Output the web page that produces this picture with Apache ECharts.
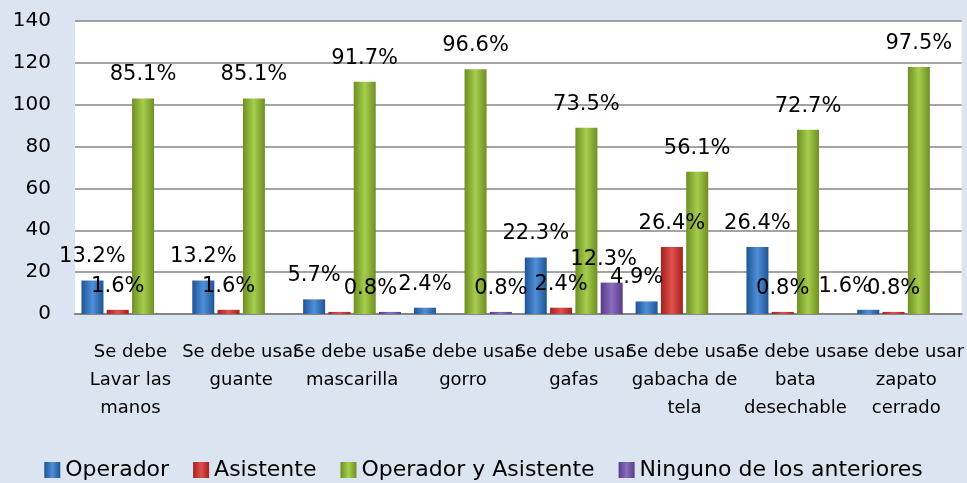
<!DOCTYPE html>
<html>
<head>
<meta charset="utf-8">
<script src="https://cdn.jsdelivr.net/npm/echarts@6/dist/echarts.min.js"></script>
<style>
  * { margin: 0; padding: 0; }
  body { background: #DBE5F1; }
</style>
</head>
<body>
<!-- contenedor del grafico -->
<div id="chart" style="width: 967px;height: 483px;"></div>
<script>
var categorias = [
  'Se debe\nLavar las\nmanos',
  'Se debe usar\nguante',
  'Se debe usar\nmascarilla',
  'Se debe usar\ngorro',
  'Se debe usar\ngafas',
  'Se debe usar\ngabacha de\ntela',
  'Se debe usar\nbata\ndesechable',
  'se debe usar\nzapato\ncerrado'
];
var operador = [16, 16, 7, 3, 27, 6, 32, 2];
var asistente = [2, 2, 1, 0, 3, 32, 1, 1];
var ambos = [103, 103, 111, 117, 89, 68, 88, 118];
var ninguno = [0, 0, 1, 1, 15, 0, 0, 0];

var operadorPct = ['13.2%', '13.2%', '5.7%', '2.4%', '22.3%', '4.9%', '26.4%', '1.6%'];
var asistentePct = ['1.6%', '1.6%', '0.8%', '', '2.4%', '26.4%', '0.8%', '0.8%'];
var ambosPct = ['85.1%', '85.1%', '91.7%', '96.6%', '73.5%', '56.1%', '72.7%', '97.5%'];
var ningunoPct = ['', '', '', '0.8%', '12.3%', '', '', ''];

var yTicks = [0, 20, 40, 60, 80, 100, 120, 140];

var font = 'DejaVu Sans';

function grad(edge, mid) {
  return new echarts.graphic.LinearGradient(0, 0, 1, 0, [
    { offset: 0, color: edge },
    { offset: 0.5, color: mid },
    { offset: 1, color: edge }
  ]);
}

// algunas etiquetas estaban movidas a mano en el original
function serie(nombre, datos, pct, color, movidas) {
  movidas = movidas || {};
  return {
    name: nombre,
    type: 'bar',
    barWidth: 22,
    barGap: '15%',
    data: datos.map(function (v, i) {
      if (movidas[i]) return { value: v, label: { offset: movidas[i] } };
      return v;
    }),
    itemStyle: { color: color },
    label: {
      show: true,
      position: 'top',
      distance: 13,
      color: '#000',
      fontFamily: font,
      fontSize: 21,
      formatter: function (p) { return pct[p.dataIndex]; }
    }
  };
}

var chart = echarts.init(document.getElementById('chart'));
chart.setOption({
  backgroundColor: '#DBE5F1',
  animation: false,
  grid: {
    left: 75,
    right: 1,
    top: 21,
    bottom: 169,
    show: true,
    backgroundColor: '#fff',
    borderWidth: 0
  },
  legend: {
    bottom: -3,
    left: 'center',
    itemWidth: 16,
    itemHeight: 16,
    itemGap: 24,
    icon: 'rect',
    textStyle: { fontFamily: font, fontSize: 22, color: '#000' },
    data: ['Operador', 'Asistente', 'Operador y Asistente', 'Ninguno de los anteriores']
  },
  xAxis: {
    type: 'category',
    data: categorias,
    axisTick: { show: false },
    axisLine: { lineStyle: { color: '#868686', width: 2 } },
    axisLabel: {
      interval: 0,
      margin: 24,
      color: '#000',
      fontFamily: font,
      fontSize: 18,
      lineHeight: 28
    }
  },
  yAxis: {
    type: 'value',
    min: yTicks[0],
    max: yTicks[yTicks.length - 1],
    interval: 20,
    axisLine: { show: false },
    axisTick: { show: false },
    splitLine: { lineStyle: { color: '#868686', width: 1.5 } },
    axisLabel: { color: '#000', fontFamily: font, fontSize: 20, margin: 24 }
  },
  series: [
    serie('Operador', operador, operadorPct, grad('#1F5495', '#4F8FD8'), { 5: [-10, 0], 7: [-23, 0] }),
    serie('Asistente', asistente, asistentePct, grad('#A2221F', '#E0504C'), { 2: [31, 0] }),
    serie('Operador y Asistente', ambos, ambosPct, grad('#6E8E24', '#A6CE4C')),
    serie('Ninguno de los anteriores', ninguno, ningunoPct, grad('#573C86', '#8C6CC0'), { 4: [-8, 0] })
  ]
});
</script>
</body>
</html>
